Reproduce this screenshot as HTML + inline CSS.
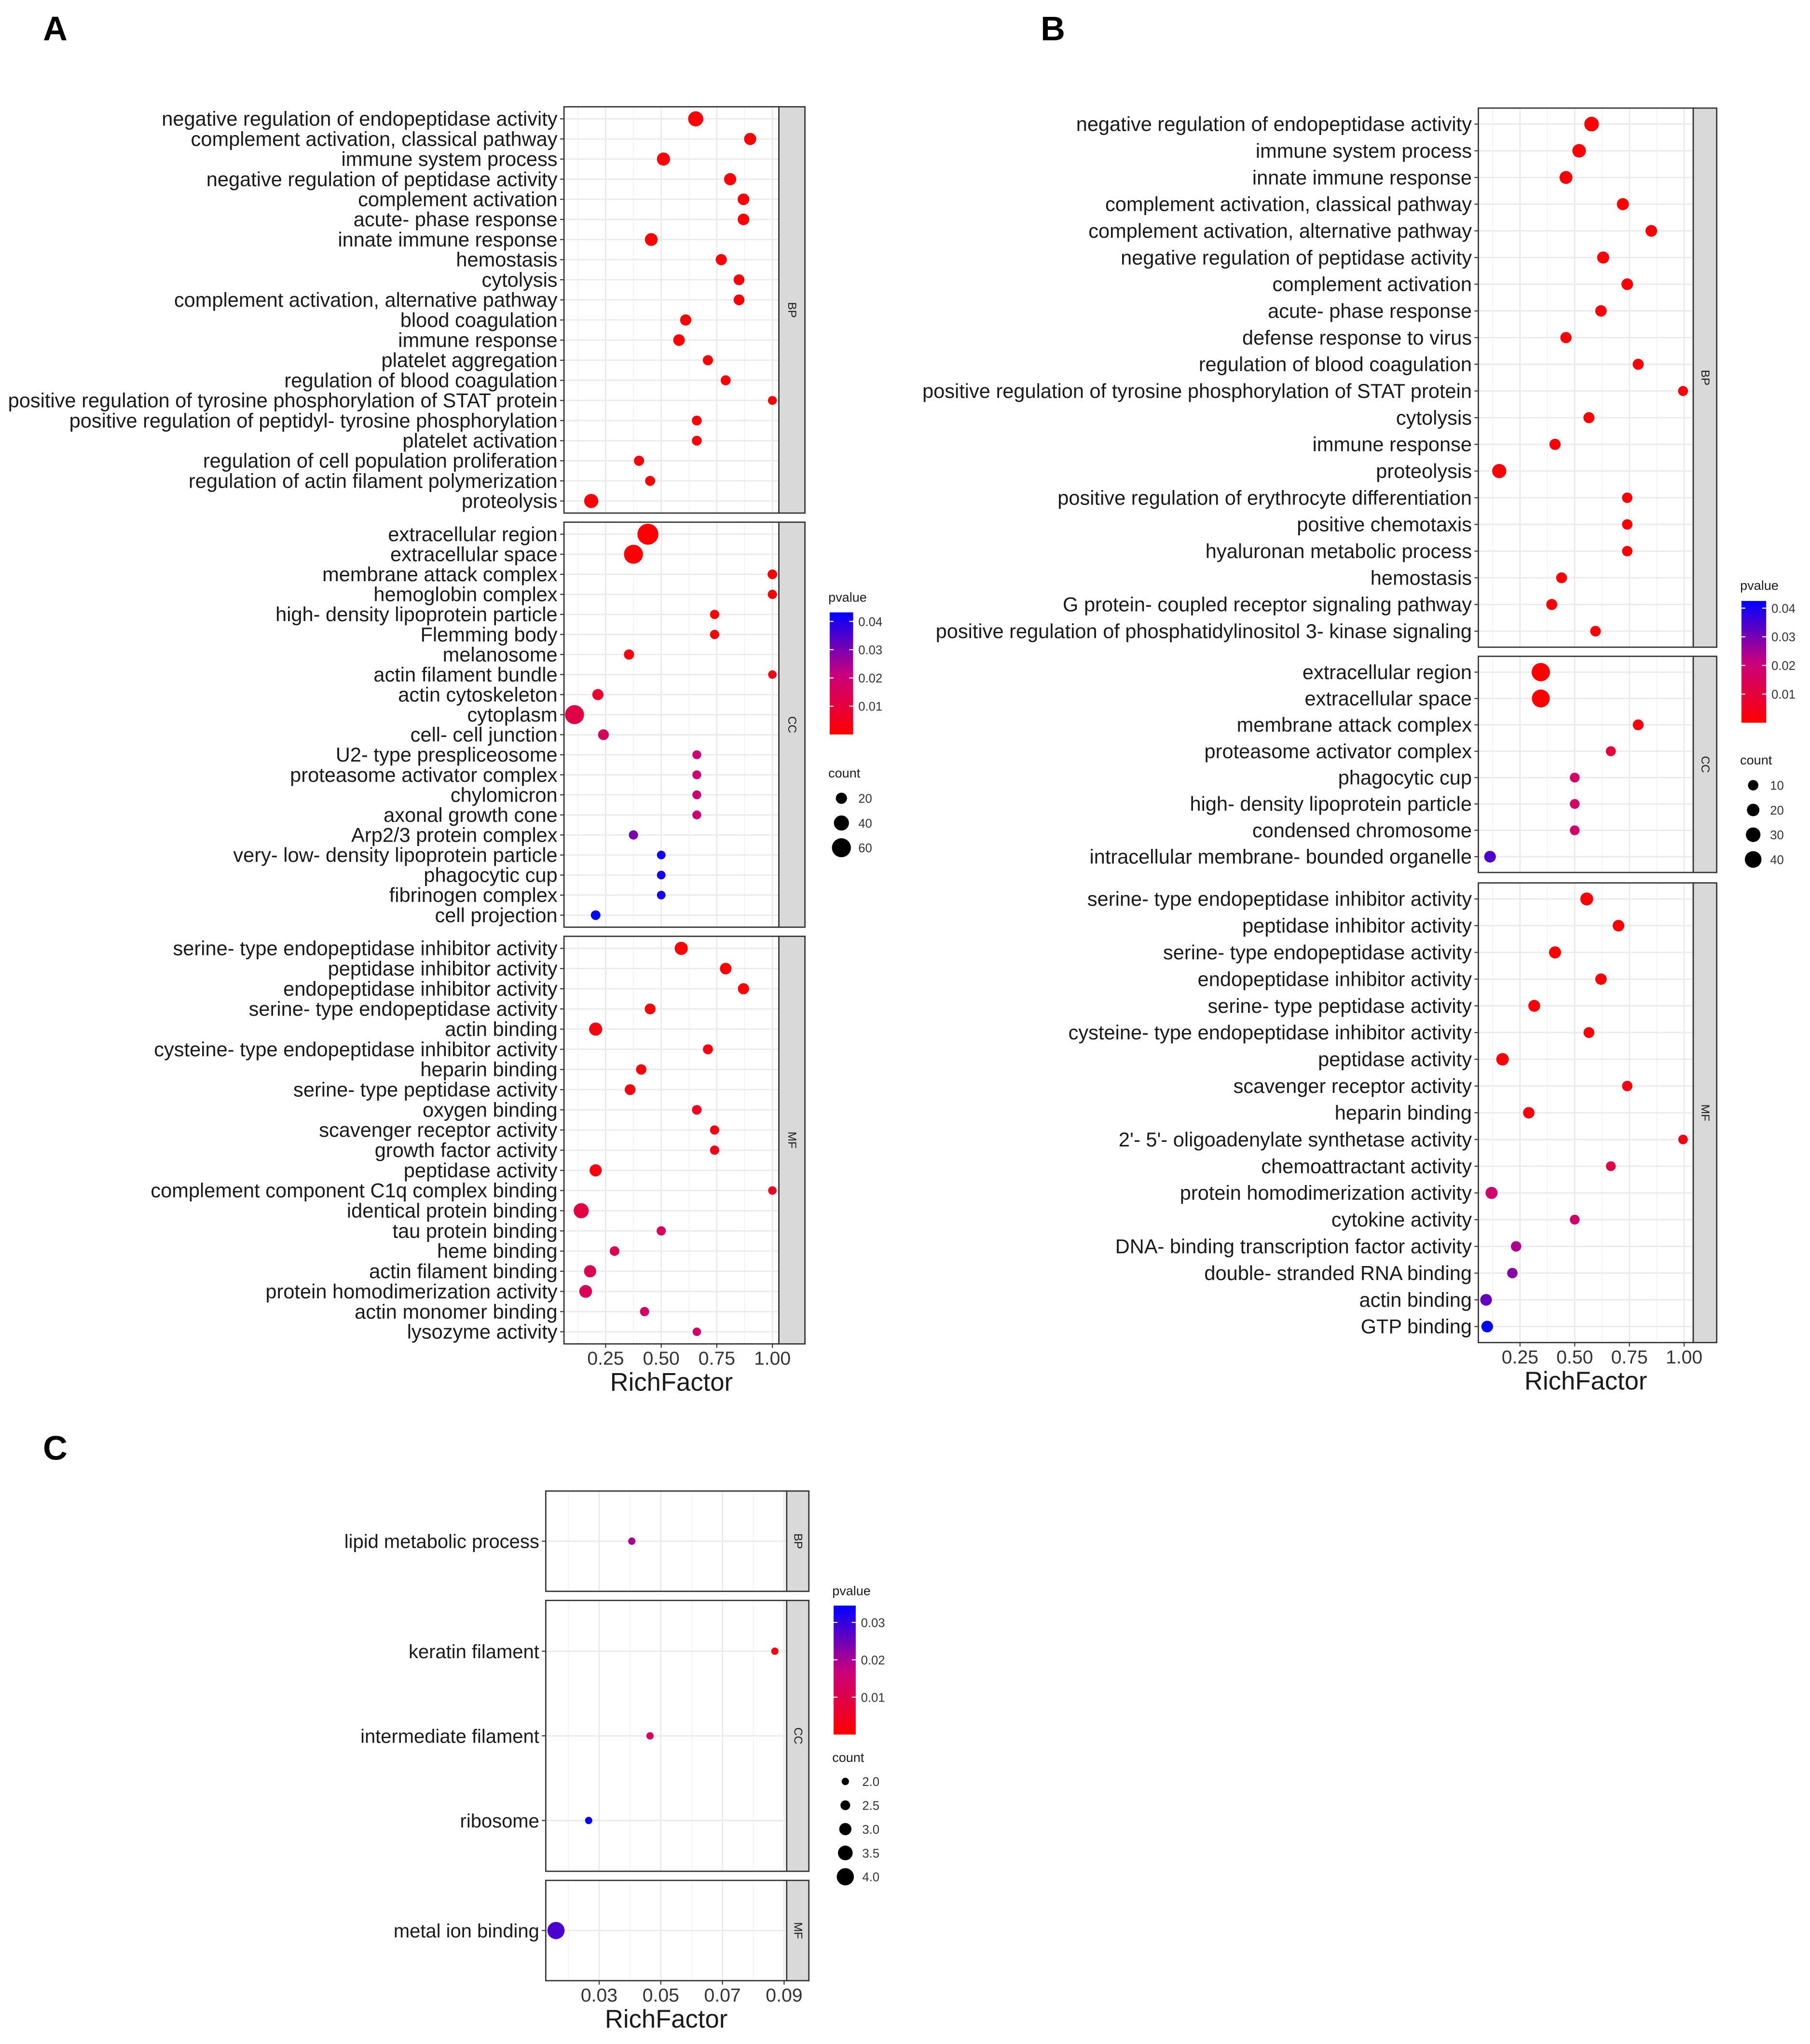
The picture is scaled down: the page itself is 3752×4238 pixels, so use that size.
<!DOCTYPE html>
<html><head><meta charset="utf-8"><style>
html,body{margin:0;padding:0;background:#fff;}
svg{display:block;font-family:"Liberation Sans",Arial,sans-serif;}
</style></head><body>
<svg id="fig" width="3752" height="4238" viewBox="0 0 1389.63 1569.63" xmlns="http://www.w3.org/2000/svg">
<defs>
<linearGradient id="gradP" x1="0" y1="1" x2="0" y2="0">
<stop offset="0" stop-color="#FF0000"/><stop offset="0.5" stop-color="#C8007E"/><stop offset="1" stop-color="#0000FF"/>
</linearGradient>
</defs>
<text x="33" y="31" font-size="26" font-weight="bold">A</text>
<text x="799" y="31" font-size="26" font-weight="bold">B</text>
<text x="33" y="1121" font-size="26" font-weight="bold">C</text>
</svg>
<script>
// ---------- Panel A data ----------
const aBpTerms = ["negative regulation of endopeptidase activity","complement activation, classical pathway","immune system process","negative regulation of peptidase activity","complement activation","acute- phase response","innate immune response","hemostasis","cytolysis","complement activation, alternative pathway","blood coagulation","immune response","platelet aggregation","regulation of blood coagulation","positive regulation of tyrosine phosphorylation of STAT protein","positive regulation of peptidyl- tyrosine phosphorylation","platelet activation","regulation of cell population proliferation","regulation of actin filament polymerization","proteolysis"];
const aBpRich = [0.655,0.90,0.51,0.81,0.87,0.87,0.455,0.77,0.85,0.85,0.61,0.58,0.71,0.79,1.0,0.66,0.66,0.40,0.45,0.185];
const aBpP = [0.0005,0.001,0.0005,0.001,0.001,0.001,0.0005,0.001,0.001,0.001,0.001,0.001,0.001,0.001,0.001,0.001,0.001,0.001,0.001,0.001];
const aBpCount = [40,25,30,25,22,22,28,20,18,18,20,22,15,14,8,13,13,15,14,35];
const aCcTerms = ["extracellular region","extracellular space","membrane attack complex","hemoglobin complex","high- density lipoprotein particle","Flemming body","melanosome","actin filament bundle","actin cytoskeleton","cytoplasm","cell- cell junction","U2- type prespliceosome","proteasome activator complex","chylomicron","axonal growth cone","Arp2/3 protein complex","very- low- density lipoprotein particle","phagocytic cup","fibrinogen complex","cell projection"];
const aCcRich = [0.44,0.375,1.0,1.0,0.74,0.74,0.355,1.0,0.215,0.11,0.24,0.66,0.66,0.66,0.66,0.375,0.50,0.50,0.50,0.205];
const aCcP = [0.0005,0.0005,0.001,0.001,0.001,0.001,0.003,0.004,0.008,0.012,0.016,0.02,0.02,0.02,0.02,0.03,0.041,0.041,0.041,0.043];
const aCcCount = [70,60,12,10,10,10,15,6,20,60,18,8,8,8,8,10,7,7,7,12];
const aMfTerms = ["serine- type endopeptidase inhibitor activity","peptidase inhibitor activity","endopeptidase inhibitor activity","serine- type endopeptidase activity","actin binding","cysteine- type endopeptidase inhibitor activity","heparin binding","serine- type peptidase activity","oxygen binding","scavenger receptor activity","growth factor activity","peptidase activity","complement component C1q complex binding","identical protein binding","tau protein binding","heme binding","actin filament binding","protein homodimerization activity","actin monomer binding","lysozyme activity"];
const aMfRich = [0.59,0.79,0.87,0.45,0.205,0.71,0.41,0.36,0.66,0.74,0.74,0.205,1.0,0.14,0.50,0.29,0.18,0.16,0.425,0.66];
const aMfP = [0.0005,0.001,0.001,0.001,0.003,0.002,0.002,0.002,0.006,0.003,0.004,0.003,0.006,0.011,0.015,0.014,0.014,0.015,0.017,0.018];
const aMfCount = [30,22,20,18,30,14,16,18,12,10,10,25,6,40,10,12,25,28,10,6];
const aTicks = [0.25,0.50,0.75,1.00];
const aTickLabels = ["0.25","0.50","0.75","1.00"];
const aPTicks = [0.01,0.02,0.03,0.04];
const aCountTicks = [20,40,60];

// ---------- Panel B data ----------
const bBpTerms = ["negative regulation of endopeptidase activity","immune system process","innate immune response","complement activation, classical pathway","complement activation, alternative pathway","negative regulation of peptidase activity","complement activation","acute- phase response","defense response to virus","regulation of blood coagulation","positive regulation of tyrosine phosphorylation of STAT protein","cytolysis","immune response","proteolysis","positive regulation of erythrocyte differentiation","positive chemotaxis","hyaluronan metabolic process","hemostasis","G protein- coupled receptor signaling pathway","positive regulation of phosphatidylinositol 3- kinase signaling"];
const bBpRich = [0.577,0.52,0.46,0.72,0.85,0.63,0.74,0.62,0.46,0.79,0.995,0.565,0.41,0.155,0.74,0.74,0.74,0.44,0.395,0.595];
const bBpP = [0.0005,0.0005,0.0005,0.001,0.001,0.001,0.001,0.001,0.001,0.001,0.001,0.001,0.001,0.0005,0.001,0.001,0.001,0.001,0.001,0.001];
const bBpCount = [30,25,22,18,16,18,16,15,14,13,8,13,14,28,10,10,10,12,13,11];
const bCcTerms = ["extracellular region","extracellular space","membrane attack complex","proteasome activator complex","phagocytic cup","high- density lipoprotein particle","condensed chromosome","intracellular membrane- bounded organelle"];
const bCcRich = [0.345,0.345,0.79,0.665,0.50,0.50,0.50,0.113];
const bCcP = [0.0002,0.0002,0.002,0.01,0.017,0.017,0.018,0.034];
const bCcCount = [48,46,12,8,7,7,7,16];
const bMfTerms = ["serine- type endopeptidase inhibitor activity","peptidase inhibitor activity","serine- type endopeptidase activity","endopeptidase inhibitor activity","serine- type peptidase activity","cysteine- type endopeptidase inhibitor activity","peptidase activity","scavenger receptor activity","heparin binding","2'- 5'- oligoadenylate synthetase activity","chemoattractant activity","protein homodimerization activity","cytokine activity","DNA- binding transcription factor activity","double- stranded RNA binding","actin binding","GTP binding"];
const bMfRich = [0.555,0.70,0.41,0.62,0.315,0.565,0.17,0.74,0.29,0.995,0.665,0.12,0.50,0.232,0.215,0.095,0.10];
const bMfP = [0.0005,0.001,0.001,0.001,0.001,0.001,0.001,0.003,0.002,0.003,0.012,0.018,0.018,0.024,0.028,0.032,0.042];
const bMfCount = [22,16,18,15,17,12,20,10,15,6,7,18,7,10,10,16,16];
const bTicks = [0.25,0.50,0.75,1.00];
const bTickLabels = ["0.25","0.50","0.75","1.00"];
const bPTicks = [0.01,0.02,0.03,0.04];
const bCountTicks = [10,20,30,40];

// ---------- Panel C data ----------
const cBpTerms = ["lipid metabolic process"];
const cBpRich = [0.0406];
const cBpP = [0.02];
const cBpCount = [2];
const cCcTerms = ["keratin filament","intermediate filament","ribosome"];
const cCcRich = [0.087,0.0465,0.0266];
const cCcP = [0.002,0.012,0.034];
const cCcCount = [2,2,2];
const cMfTerms = ["metal ion binding"];
const cMfRich = [0.016];
const cMfP = [0.028];
const cMfCount = [4];
const cTicks = [0.03,0.05,0.07,0.09];
const cTickLabels = ["0.03","0.05","0.07","0.09"];
const cPTicks = [0.01,0.02,0.03];
const cCountTicks = [2.0,2.5,3.0,3.5,4.0];
const cCountLabels = ["2.0","2.5","3.0","3.5","4.0"];

const NS = "http://www.w3.org/2000/svg";
const svg = document.getElementById('fig');
function mk(tag, attrs, parent){
  const e = document.createElementNS(NS, tag);
  for (const k in attrs) e.setAttribute(k, attrs[k]);
  (parent||svg).appendChild(e);
  return e;
}
function lerp(a,b,t){return a+(b-a)*t;}
function pColor(p, pmax){
  let t = Math.max(0, Math.min(1, p/pmax));
  const s=[[255,0,0],[200,0,126],[0,0,255]];
  let c;
  if (t<0.5){const u=t/0.5;c=s[0].map((v,i)=>Math.round(lerp(v,s[1][i],u)));}
  else {const u=(t-0.5)/0.5;c=s[1].map((v,i)=>Math.round(lerp(v,s[2][i],u)));}
  return `rgb(${c[0]},${c[1]},${c[2]})`;
}

function drawPanel(cfg){
  const g = mk('g', {});
  
  
  const xs = v => cfg.xA + (v - cfg.vA) * (cfg.xB - cfg.xA) / (cfg.vB - cfg.vA);
  const step = cfg.ticks[1]-cfg.ticks[0];
  cfg.facets.forEach(f => {
    const fg = mk('g', {}, g);
    
    
    const h = f.y1 - f.y0, n = f.terms.length;
    const sp = h / (n - 1 + 1.2);
    const ys = i => f.y0 + 0.6*sp + i*sp;
    mk('rect', {x:cfg.px0, y:f.y0, width:cfg.px1-cfg.px0, height:h, fill:'#fff'}, fg);
    for (let k=-1;k<cfg.ticks.length;k++){
      const v = cfg.ticks[0] + (k+0.5)*step;
      const x = xs(v);
      if (x>cfg.px0 && x<cfg.px1) mk('line',{x1:x,x2:x,y1:f.y0,y2:f.y1,stroke:'#F2F2F2','stroke-width':0.6},fg);
    }
    cfg.ticks.forEach(v=>{const x=xs(v); mk('line',{x1:x,x2:x,y1:f.y0,y2:f.y1,stroke:'#EBEBEB','stroke-width':1.1},fg);});
    f.terms.forEach((t,i)=>{
      const y = ys(i);
      mk('line',{x1:cfg.px0,x2:cfg.px1,y1:y,y2:y,stroke:'#EBEBEB','stroke-width':1.1},fg);
      mk('line',{x1:cfg.px0-3,x2:cfg.px0,y1:y,y2:y,stroke:'#333','stroke-width':0.8},fg);
      const tx = mk('text',{x:cfg.px0-5, y:y+5.3, 'font-size':cfg.fs, 'text-anchor':'end', fill:'#1a1a1a'},fg);
      
      
      tx.textContent = t;
    });
    f.terms.forEach((t,i)=>{
      const c = mk('circle',{cx:xs(f.rich[i]), cy:ys(i), r:cfg.rad(f.count[i]), fill:pColor(f.p[i], cfg.pmax)},fg);
      
      
    });
    mk('rect',{x:cfg.px0, y:f.y0, width:cfg.px1-cfg.px0, height:h, fill:'none', stroke:'#333','stroke-width':1},fg);
    const st = mk('rect',{x:cfg.px1, y:f.y0, width:cfg.sw, height:h, fill:'#D9D9D9', stroke:'#333','stroke-width':1},fg);
    
    
    const cx = cfg.px1 + cfg.sw/2, cy = (f.y0+f.y1)/2;
    const sl = mk('text',{x:cx, y:cy, 'font-size':9, fill:'#1a1a1a','text-anchor':'middle','dominant-baseline':'central', transform:`rotate(90 ${cx} ${cy})`},fg);
    
    
    sl.textContent = f.label;
  });
  const yb = cfg.facets[cfg.facets.length-1].y1;
  cfg.ticks.forEach((v,i)=>{
    const x = xs(v);
    mk('line',{x1:x,x2:x,y1:yb,y2:yb+3,stroke:'#333','stroke-width':0.8},g);
    const tl = mk('text',{x:x, y:yb+16, 'font-size':14.5, 'text-anchor':'middle', fill:'#333'},g);
    
    
    tl.textContent = cfg.tickLabels[i];
  });
  const xt = mk('text',{x:(cfg.px0+cfg.px1)/2, y:yb+36, 'font-size':19.5, 'text-anchor':'middle', fill:'#1a1a1a'},g);
  
  
  xt.textContent = 'RichFactor';
  const L = cfg.leg;
  const lg = mk('g',{},g);
  
  
  const pt = mk('text',{x:L.x, y:L.pTitleY, 'font-size':10, fill:'#1a1a1a'},lg);
  
  
  pt.textContent = 'pvalue';
  const barTop = L.y0 - cfg.pmax*L.perP;
  const cb = mk('rect',{x:L.x+1, y:barTop, width:L.bw, height:L.y0-barTop, fill:'url(#gradP)'},lg);
  
  
  cfg.pTicks.forEach(v=>{
    const y = L.y0 - v*L.perP;
    mk('line',{x1:L.x+1,x2:L.x+4,y1:y,y2:y,stroke:'#fff','stroke-width':0.8},lg);
    mk('line',{x1:L.x+1+L.bw-3,x2:L.x+1+L.bw,y1:y,y2:y,stroke:'#fff','stroke-width':0.8},lg);
    const t = mk('text',{x:L.x+L.bw+5, y:y+3.5, 'font-size':9.5, fill:'#333'},lg);
    
    
    t.textContent = v.toFixed(2);
  });
  const ct = mk('text',{x:L.x, y:L.cTitleY, 'font-size':10, fill:'#1a1a1a'},lg);
  
  
  ct.textContent = 'count';
  cfg.countTicks.forEach((v,i)=>{
    const y = L.cy0 + i*L.cdy;
    const c = mk('circle',{cx:L.x+10, cy:y, r:cfg.rad(v), fill:'#000'},lg);
    
    
    const t = mk('text',{x:L.x+23, y:y+3.5, 'font-size':9.5, fill:'#333'},lg);
    
    
    t.textContent = cfg.countLabels ? cfg.countLabels[i] : String(v);
  });
}

drawPanel({name:'panel-a', px0:433, px1:598, sw:20, fs:15.4, xA:465, vA:0.25, xB:593, vB:1.0,
  ticks:aTicks, tickLabels:aTickLabels, pTicks:aPTicks, countTicks:aCountTicks, pmax:0.0432,
  rad:c=>2.8+0.075*c,
  leg:{x:636, pTitleY:462, y0:564, perP:2170, bw:18, cTitleY:597, cy0:613, cdy:19},
  facets:[
    {label:'BP', y0:82, y1:394, terms:aBpTerms, rich:aBpRich, p:aBpP, count:aBpCount},
    {label:'CC', y0:401, y1:712, terms:aCcTerms, rich:aCcRich, p:aCcP, count:aCcCount},
    {label:'MF', y0:719, y1:1032, terms:aMfTerms, rich:aMfRich, p:aMfP, count:aMfCount}]});

drawPanel({name:'panel-b', px0:1135, px1:1300, sw:18, fs:15.4, xA:1167, vA:0.25, xB:1293, vB:1.0,
  ticks:bTicks, tickLabels:bTickLabels, pTicks:bPTicks, countTicks:bCountTicks, pmax:0.0425,
  rad:c=>3.2+0.08*c,
  leg:{x:1336, pTitleY:453, y0:555, perP:2200, bw:19, cTitleY:587, cy0:603, cdy:19},
  facets:[
    {label:'BP', y0:83, y1:497, terms:bBpTerms, rich:bBpRich, p:bBpP, count:bBpCount},
    {label:'CC', y0:504, y1:670, terms:bCcTerms, rich:bCcRich, p:bCcP, count:bCcCount},
    {label:'MF', y0:678, y1:1031, terms:bMfTerms, rich:bMfRich, p:bMfP, count:bMfCount}]});

drawPanel({name:'panel-c', px0:419, px1:604, sw:17, fs:14.8, xA:460, vA:0.03, xB:602, vB:0.09,
  ticks:cTicks, tickLabels:cTickLabels, pTicks:cPTicks, countTicks:cCountTicks, countLabels:cCountLabels, pmax:0.0345,
  rad:c=>2.8+1.9*(c-2),
  leg:{x:639, pTitleY:1225, y0:1332, perP:2870, bw:17, cTitleY:1353, cy0:1368, cdy:18.3},
  facets:[
    {label:'BP', y0:1145, y1:1222, terms:cBpTerms, rich:cBpRich, p:cBpP, count:cBpCount},
    {label:'CC', y0:1229, y1:1437, terms:cCcTerms, rich:cCcRich, p:cCcP, count:cCcCount},
    {label:'MF', y0:1444, y1:1521, terms:cMfTerms, rich:cMfRich, p:cMfP, count:cMfCount}]});
</script>
</body></html>
